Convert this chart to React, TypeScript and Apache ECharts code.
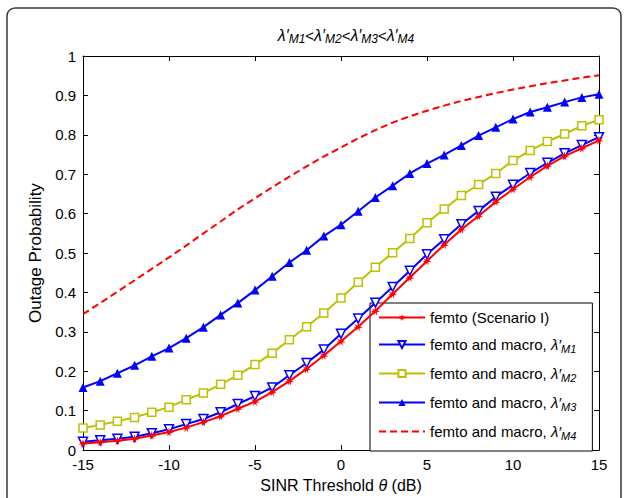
import React, { useEffect, useRef } from "react";
import * as echarts from "echarts";

const thresholds = [-15, -14, -13, -12, -11, -10, -9, -8, -7, -6, -5, -4, -3, -2, -1, 0, 1, 2, 3, 4, 5, 6, 7, 8, 9, 10, 11, 12, 13, 14, 15];
const femto = [0.017, 0.02, 0.024, 0.029, 0.037, 0.046, 0.057, 0.071, 0.086, 0.105, 0.123, 0.147, 0.175, 0.206, 0.24, 0.276, 0.313, 0.353, 0.396, 0.438, 0.48, 0.521, 0.56, 0.594, 0.63, 0.662, 0.693, 0.721, 0.746, 0.766, 0.786];
const macroM1 = [0.021, 0.025, 0.029, 0.034, 0.043, 0.053, 0.066, 0.079, 0.096, 0.117, 0.137, 0.159, 0.19, 0.221, 0.255, 0.295, 0.334, 0.374, 0.414, 0.455, 0.497, 0.535, 0.573, 0.607, 0.643, 0.673, 0.703, 0.729, 0.753, 0.774, 0.794];
const macroM2 = [0.056, 0.064, 0.073, 0.083, 0.096, 0.109, 0.128, 0.145, 0.167, 0.19, 0.217, 0.246, 0.28, 0.313, 0.348, 0.386, 0.426, 0.464, 0.501, 0.537, 0.577, 0.612, 0.646, 0.674, 0.702, 0.735, 0.76, 0.783, 0.802, 0.823, 0.838];
const macroM3 = [0.159, 0.175, 0.195, 0.215, 0.238, 0.259, 0.284, 0.312, 0.343, 0.373, 0.406, 0.441, 0.476, 0.507, 0.543, 0.572, 0.606, 0.641, 0.671, 0.702, 0.727, 0.749, 0.773, 0.798, 0.819, 0.84, 0.858, 0.87, 0.883, 0.895, 0.903];
const macroM4 = [0.345, 0.373, 0.402, 0.431, 0.46, 0.489, 0.519, 0.55, 0.58, 0.611, 0.639, 0.667, 0.694, 0.72, 0.745, 0.768, 0.791, 0.812, 0.831, 0.847, 0.861, 0.874, 0.886, 0.896, 0.906, 0.915, 0.923, 0.931, 0.938, 0.945, 0.951];

const seriesNames = [
  "femto (Scenario I)",
  "femto and macro, λ′M1",
  "femto and macro, λ′M2",
  "femto and macro, λ′M3",
  "femto and macro, λ′M4",
];
const titleParts = ["M1", "M2", "M3", "M4"];

const FONT = "'Liberation Sans', Arial, Helvetica, sans-serif";
const RED = "#ff0000";
const BLUE = "#0000ff";
const OLIVE = "#bfbf00";

export default function App() {
  const ref = useRef<HTMLDivElement>(null);
  useEffect(() => {
    if (!ref.current) return;
    const chart = echarts.init(ref.current, null, { renderer: "svg" });
    const pair = (ys: number[]) => thresholds.map((x, i) => [x, ys[i]]);
    const titleText = titleParts.map((p) => `{l|λ′}{s|${p}}`).join("{o|<}");

    const axisCommon = {
      axisLine: { show: true, onZero: false, lineStyle: { color: "#000", width: 1 } },
      axisTick: { show: true, inside: true, length: 5, lineStyle: { color: "#000" } },
      splitLine: { show: false },
    };

    const option: any = {
      animation: false,
      backgroundColor: "#fff",
      title: {
        text: titleText,
        left: 341,
        top: 20,
        textAlign: "center",
        textStyle: {
          fontFamily: FONT,
          fontWeight: "normal",
          color: "#000",
          rich: {
            l: { fontSize: 16, fontStyle: "italic", fontFamily: FONT, color: "#000" },
            s: { fontSize: 12, fontStyle: "italic", fontFamily: FONT, color: "#000", padding: [8, 0, 0, 0] },
            o: { fontSize: 15, fontFamily: FONT, color: "#000" },
          },
        },
      },
      graphic: [
        {
          type: "rect",
          silent: true,
          z: -10,
          shape: { x: 7, y: 8, width: 614, height: 530, r: 8 },
          style: { fill: "none", stroke: "#3a3a3a", lineWidth: 1.5 },
        },
      ],
      grid: { left: 83, right: 26, top: 56, bottom: 43, containLabel: false },
      xAxis: [
        {
          type: "value",
          min: -15,
          max: 15,
          interval: 5,
          position: "bottom",
          ...axisCommon,
          axisLabel: { color: "#000", fontSize: 15, fontFamily: FONT, margin: 7 },
          name: "SINR Threshold {i|θ} (dB)",
          nameLocation: "middle",
          nameGap: 26,
          nameTextStyle: {
            color: "#000",
            fontSize: 16,
            fontFamily: FONT,
            rich: { i: { fontSize: 16, fontStyle: "italic", fontFamily: FONT, color: "#000" } },
          },
        },
        {
          type: "value",
          min: -15,
          max: 15,
          interval: 5,
          position: "top",
          ...axisCommon,
          axisLabel: { show: false },
        },
      ],
      yAxis: [
        {
          type: "value",
          min: 0,
          max: 1,
          interval: 0.1,
          position: "left",
          ...axisCommon,
          axisLabel: { color: "#000", fontSize: 15, fontFamily: FONT, margin: 7 },
          name: "Outage Probability",
          nameLocation: "middle",
          nameRotate: 90,
          nameGap: 33,
          nameTextStyle: { color: "#000", fontSize: 17, fontFamily: FONT },
        },
        {
          type: "value",
          min: 0,
          max: 1,
          interval: 0.1,
          position: "right",
          ...axisCommon,
          axisLabel: { show: false },
        },
      ],
      legend: {
        orient: "vertical",
        left: 370,
        top: 303,
        backgroundColor: "#fff",
        borderColor: "#000",
        borderWidth: 1,
        borderRadius: 0,
        padding: [7, 16, 10, 8],
        itemWidth: 46,
        itemHeight: 9,
        itemGap: 12,
        selectedMode: false,
        data: seriesNames.map((n, i) =>
          i === 4 ? { name: n, itemStyle: { opacity: 0 } } : { name: n }
        ),
        formatter: (name: string) => {
          const m = name.match(/^(.*)λ′(M\d)$/);
          if (!m) return name;
          return `${m[1]}{l|λ′}{s|${m[2]}}`;
        },
        textStyle: {
          fontFamily: FONT,
          fontSize: 15,
          color: "#000",
          rich: {
            l: { fontSize: 15, fontStyle: "italic", fontFamily: FONT, color: "#000" },
            s: { fontSize: 11, fontStyle: "italic", fontFamily: FONT, color: "#000", padding: [8, 0, 0, 0] },
          },
        },
      },
      series: [
        {
          name: seriesNames[0],
          type: "line",
          data: pair(femto),
          symbol: "path://M5,0 L6,3.6 L9.5,1.9 L7.2,4.6 L10,6 L6.6,6.3 L6.8,10 L5,7 L3.2,10 L3.4,6.3 L0,6 L2.8,4.6 L0.5,1.9 L4,3.6 Z",
          symbolSize: 9,
          showAllSymbol: true,
          lineStyle: { color: RED, width: 2 },
          itemStyle: { color: RED },
          z: 5,
        },
        {
          name: seriesNames[1],
          type: "line",
          data: pair(macroM1),
          symbol: "triangle",
          symbolRotate: 180,
          symbolSize: 9,
          showAllSymbol: true,
          lineStyle: { color: BLUE, width: 2 },
          itemStyle: { color: "#fff", borderColor: BLUE, borderWidth: 1.5 },
          z: 4,
        },
        {
          name: seriesNames[2],
          type: "line",
          data: pair(macroM2),
          symbol: "rect",
          symbolSize: 8,
          showAllSymbol: true,
          lineStyle: { color: OLIVE, width: 2 },
          itemStyle: { color: "#fff", borderColor: OLIVE, borderWidth: 1.5 },
          z: 3,
        },
        {
          name: seriesNames[3],
          type: "line",
          data: pair(macroM3),
          symbol: "triangle",
          symbolSize: 9,
          showAllSymbol: true,
          lineStyle: { color: BLUE, width: 2 },
          itemStyle: { color: BLUE },
          z: 3,
        },
        {
          name: seriesNames[4],
          type: "line",
          data: pair(macroM4),
          symbol: "circle",
          showSymbol: false,
          lineStyle: { color: RED, width: 2, type: [7, 4] },
          itemStyle: { color: RED, opacity: 0 },
          z: 2,
        },
      ],
    };
    chart.setOption(option);
    return () => chart.dispose();
  }, []);
  return (
    <div
      ref={ref}
      style={{ position: "fixed", left: 0, top: 0, width: 625, height: 498, background: "#fff" }}
    />
  );
}
